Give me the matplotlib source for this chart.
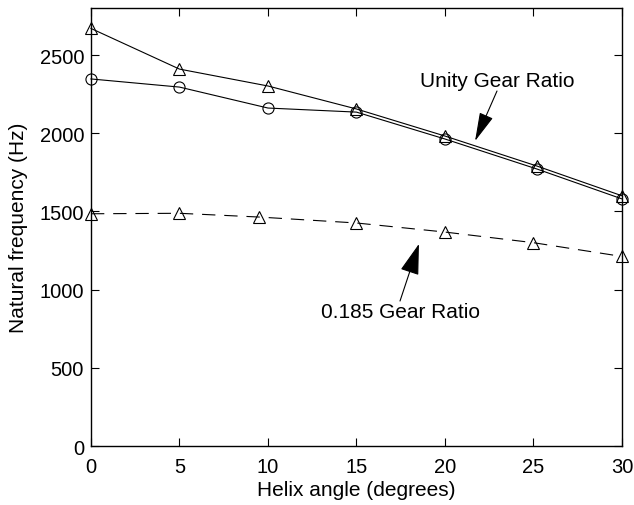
import matplotlib
matplotlib.use("Agg")
import matplotlib.pyplot as plt

# helix angle (deg) and natural frequency (Hz)
x_unity = [0, 5, 10, 15, 20, 25.2, 30]
f_unity_tri = [2670, 2410, 2302, 2155, 1982, 1790, 1600]
x_unity_circ = [0, 5, 10, 15, 20, 25.2, 30]
f_unity_circ = [2347, 2295, 2161, 2135, 1963, 1771, 1580]
x_low = [0, 5, 9.5, 15, 20, 25, 30]
f_low = [1485, 1488, 1464, 1426, 1368, 1300, 1212]

xticks = [0, 5, 10, 15, 20, 25, 30]
yticks = [0, 500, 1000, 1500, 2000, 2500]

plt.rcParams["font.family"] = ["Liberation Sans", "DejaVu Sans"]
plt.rcParams["font.size"] = 14.5

fig = plt.figure(figsize=(6.34, 5.06), dpi=100)
ax = fig.add_axes([0.1435, 0.1166, 0.8375, 0.8654])

lw = 0.8
ax.plot(x_unity, f_unity_tri, "-^", color="black", lw=lw, ms=8.5, mfc="none", mew=0.8,
        clip_on=False)
ax.plot(x_unity_circ, f_unity_circ, "-o", color="black", lw=lw, ms=8, mfc="none", mew=0.8,
        clip_on=False)
ax.plot(x_low, f_low, "^", ls=(0, (12, 8)), color="black", lw=lw, ms=8.5, mfc="none",
        mew=0.8, clip_on=False)

ax.set_xlim(0, 30)
ax.set_ylim(0, 2800)
ax.set_xticks(xticks)
ax.set_yticks(yticks)
ax.tick_params(direction="in", top=True, right=True, length=5.5, width=0.8, pad=5)
ax.tick_params(axis="x", pad=8)
for s in ax.spines.values():
    s.set_linewidth(1.0)

ax.set_xlabel("Helix angle (degrees)", fontsize=15, labelpad=3)
ax.set_ylabel("Natural frequency (Hz)", fontsize=15, labelpad=8)

ax.text(22.94, 2340, "Unity Gear Ratio", fontsize=15, ha="center", va="center")
ax.annotate("", xy=(21.7, 1950), xytext=(22.94, 2270),
            arrowprops=dict(arrowstyle="-|>,head_length=1.8,head_width=0.45",
                            mutation_scale=10, color="black", lw=0.8,
                            shrinkA=0, shrinkB=0))
ax.text(17.46, 857, "0.185 Gear Ratio", fontsize=15, ha="center", va="center")
ax.annotate("", xy=(18.53, 1292), xytext=(17.46, 927),
            arrowprops=dict(arrowstyle="-|>,head_length=1.95,head_width=0.6",
                            mutation_scale=10, color="black", lw=0.8,
                            shrinkA=0, shrinkB=0))

fig.savefig("out.png", dpi=100)
